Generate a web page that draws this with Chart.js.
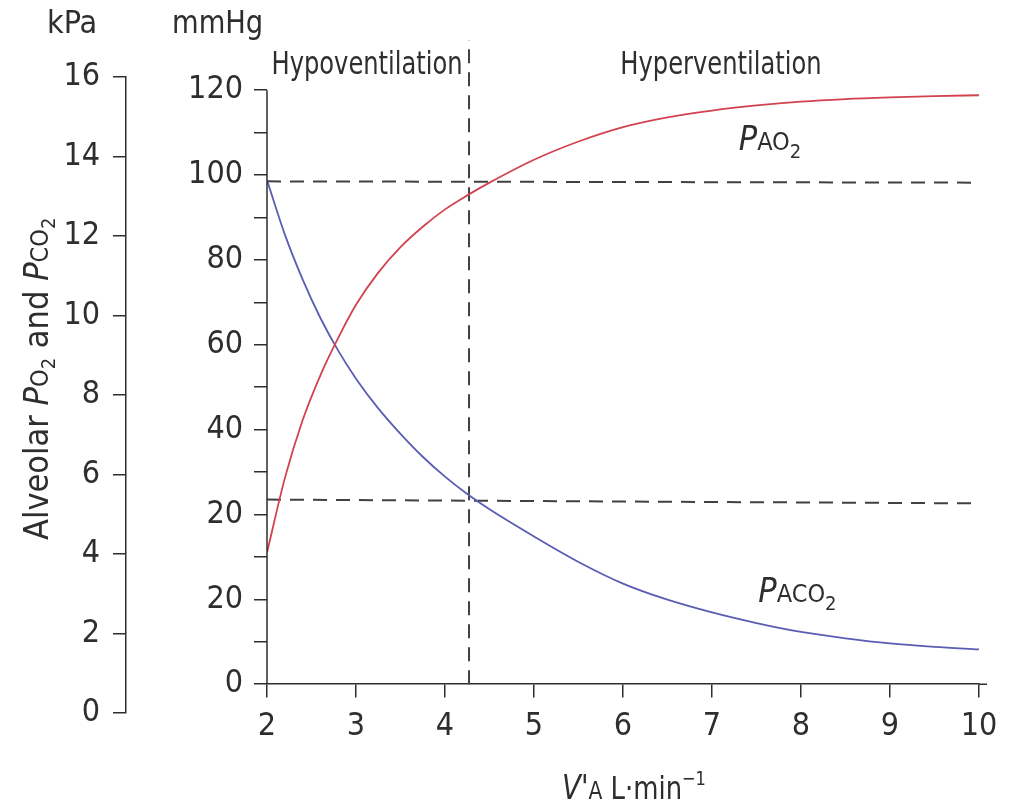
<!DOCTYPE html>
<html>
<head>
<meta charset="utf-8">
<script src="https://cdn.jsdelivr.net/npm/chart.js@4.4.0/dist/chart.umd.min.js"></script>
<style>
  html, body { margin: 0; padding: 0; background: #fff; }
  #wrap { width: 1011px; height: 807px; }
</style>
</head>
<body>
<div id="wrap"><canvas id="chart" width="1011" height="807"></canvas></div>
<script>
// alveolar ventilation, L/min
const ventilation = [2, 2.2, 2.4, 2.6, 2.8, 3, 3.25, 3.5, 3.75, 4, 4.25, 4.5, 5, 5.5, 6, 6.5, 7, 7.5, 8, 8.5, 9, 9.5, 10];
// read against the mmHg axis as it is drawn (one label step = 20)
const pAO2 = [31.0, 48.5, 62.2, 72.8, 81.6, 89.4, 97.0, 103.0, 107.8, 111.9, 115.2, 118.2, 123.6, 127.9, 131.3, 133.6, 135.2, 136.4, 137.3, 137.9, 138.3, 138.6, 138.8];
const pACO2 = [118.8, 106.0, 95.4, 86.3, 78.6, 72.0, 65.0, 59.0, 53.6, 48.9, 44.8, 41.2, 34.8, 28.8, 23.7, 19.9, 16.9, 14.4, 12.3, 10.8, 9.6, 8.8, 8.2];
// normal ventilation and the reference levels (dashed)
const normalVA = 4.27;
const refO2 = [118.5, 118.2];
const refCO2 = [43.5, 42.6];
const refTop = 151.8;
// tick labels as printed on the figure
const mmHgLabels = ['0', '20', '20', '40', '60', '80', '100', '120'];
const kPaTicks = [0, 2, 4, 6, 8, 10, 12, 14, 16];
const xTicks = [2, 3, 4, 5, 6, 7, 8, 9, 10];

const FAMILY = "'Liberation Sans Narrow', 'Arial Narrow', 'DejaVu Sans Condensed', Roboto, sans-serif";
const INK = '#2e2e2e';
const RED = '#d2434f';
const BLUE = '#5a5db3';
const DASH = '#404040';

function richWidth(ctx, parts) {
  let w = 0;
  for (const p of parts) { ctx.font = p.font; w += ctx.measureText(p.t).width; }
  return w;
}
// draws mixed-style text, k squeezes it horizontally
function drawRich(ctx, parts, x, y, k = 1) {
  ctx.save();
  ctx.translate(x, y);
  ctx.scale(k, 1);
  let cx = 0;
  for (const p of parts) {
    ctx.font = p.font;
    ctx.fillText(p.t, cx, p.dy || 0);
    cx += ctx.measureText(p.t).width;
  }
  ctx.restore();
  return cx * k;
}

const big = `32px ${FAMILY}`;
const bigIt = `italic 34px ${FAMILY}`;
const small = `25px ${FAMILY}`;
const sub = `20px ${FAMILY}`;

const figureText = {
  id: 'figureText',
  afterDraw(chart) {
    const ctx = chart.ctx;
    const x = chart.scales.x, y = chart.scales.y;
    ctx.save();
    ctx.fillStyle = INK;
    ctx.strokeStyle = INK;
    ctx.textBaseline = 'alphabetic';
    ctx.textAlign = 'left';

    // mmHg axis line (from 0 to the top label only) and x axis overhang
    ctx.lineWidth = 1.5;
    ctx.beginPath();
    ctx.moveTo(y.right, y.getPixelForValue(0));
    ctx.lineTo(y.right, y.getPixelForValue(140));
    ctx.moveTo(x.right, y.getPixelForValue(0));
    ctx.lineTo(x.right + 8, y.getPixelForValue(0));
    ctx.stroke();

    // unit headers
    drawRich(ctx, [{ t: 'kPa', font: big }], 47, 33);
    drawRich(ctx, [{ t: 'mmHg', font: big }], 172, 33, 0.95);

    // region headers
    drawRich(ctx, [{ t: 'Hypoventilation', font: big }], x.getPixelForValue(2.05), 74, 0.84);
    drawRich(ctx, [{ t: 'Hyperventilation', font: big }], x.getPixelForValue(5.97), 74, 0.84);

    // curve labels
    drawRich(ctx, [
      { t: 'P', font: bigIt },
      { t: 'AO', font: small },
      { t: '2', font: sub, dy: 8 }
    ], x.getPixelForValue(7.3), y.getPixelForValue(125.9));
    drawRich(ctx, [
      { t: 'P', font: bigIt },
      { t: 'ACO', font: small },
      { t: '2', font: sub, dy: 8 }
    ], x.getPixelForValue(7.52), y.getPixelForValue(19.3));

    // x axis title
    const xt = [
      { t: "V'", font: bigIt },
      { t: 'A', font: small },
      { t: ' L\u00b7min', font: big },
      { t: '\u22121', font: sub, dy: -14 }
    ];
    const xk = 0.9;
    const xw = richWidth(ctx, xt) * xk;
    drawRich(ctx, xt, 634 - xw / 2, 799, xk);

    // y axis title, rotated
    const yt = [
      { t: 'Alveolar ', font: `34px ${FAMILY}` },
      { t: 'P', font: bigIt },
      { t: 'O', font: small },
      { t: '2', font: sub, dy: 7 },
      { t: ' and ', font: `34px ${FAMILY}` },
      { t: 'P', font: bigIt },
      { t: 'CO', font: small },
      { t: '2', font: sub, dy: 7 }
    ];
    ctx.translate(48, 540);
    ctx.rotate(-Math.PI / 2);
    drawRich(ctx, yt, 0, 0);
    ctx.restore();
  }
};

const pts = (xs, ys) => xs.map((v, i) => ({ x: v, y: ys[i] }));

const dashed = {
  borderColor: DASH,
  borderWidth: 2,
  borderDash: [14, 9],
  pointRadius: 0,
  fill: false
};

const tickFont = { family: FAMILY, size: 32 };
const tickGrid = { drawOnChartArea: false, drawTicks: true, tickLength: 13, color: INK, lineWidth: 1.5 };

new Chart(document.getElementById('chart'), {
  type: 'line',
  data: {
    datasets: [
      { label: 'PAO2', data: pts(ventilation, pAO2), borderColor: RED, borderWidth: 1.8, pointRadius: 0, cubicInterpolationMode: 'monotone' },
      { label: 'PACO2', data: pts(ventilation, pACO2), borderColor: BLUE, borderWidth: 1.8, pointRadius: 0, cubicInterpolationMode: 'monotone' },
      { label: 'ref O2', data: pts([2, 10], refO2), ...dashed },
      { label: 'ref CO2', data: pts([2, 10], refCO2), ...dashed },
      { label: 'normal', data: pts([normalVA, normalVA], [0, refTop]), ...dashed, clip: false }
    ]
  },
  options: {
    responsive: false,
    animation: false,
    layout: { padding: { left: 0, top: 77, right: 32, bottom: 94 } },
    plugins: { legend: { display: false }, tooltip: { enabled: false } },
    scales: {
      x: {
        type: 'linear',
        min: 2,
        max: 10,
        position: { y: 0 },
        afterBuildTicks: s => { s.ticks = xTicks.map(v => ({ value: v })); },
        ticks: { color: INK, font: tickFont, padding: 10, autoSkip: false, maxRotation: 0 },
        grid: tickGrid,
        border: { color: INK, width: 1.5 }
      },
      y: {
        type: 'linear',
        position: 'left',
        min: -6.8,
        max: 143.1,
        afterBuildTicks: s => {
          const t = [];
          mmHgLabels.forEach((_, i) => {
            t.push({ value: i * 20 });
            if (i < mmHgLabels.length - 1) t.push({ value: i * 20 + 10 });
          });
          s.ticks = t;
        },
        afterFit: s => { s.width = 141; },
        ticks: {
          color: INK,
          font: tickFont,
          padding: 11,
          autoSkip: false,
          callback: v => (v % 20 === 0 ? mmHgLabels[v / 20] : '')
        },
        grid: tickGrid,
        border: { display: false }
      },
      kpa: {
        type: 'linear',
        position: 'left',
        weight: 1,
        min: 0,
        max: 16,
        afterBuildTicks: s => { s.ticks = kPaTicks.map(v => ({ value: v })); },
        afterFit: s => { s.width = 126; },
        ticks: { color: INK, font: tickFont, padding: 13, autoSkip: false },
        grid: tickGrid,
        border: { color: INK, width: 1.5 }
      }
    }
  },
  plugins: [figureText]
});
</script>
</body>
</html>
